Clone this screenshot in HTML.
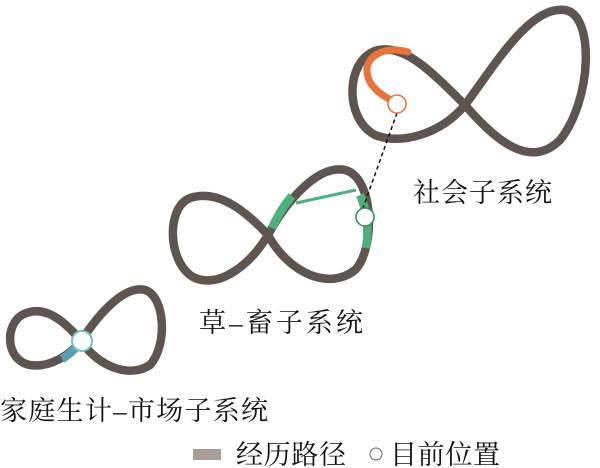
<!DOCTYPE html>
<html><head><meta charset="utf-8"><style>
html,body{margin:0;padding:0;background:#fff;width:600px;height:468px;overflow:hidden}
svg{display:block}
text{font-family:"Liberation Serif","Noto Serif CJK SC",serif;fill:#111}
</style></head><body>
<svg width="600" height="468" viewBox="0 0 600 468">
<g fill="none" stroke="#5f5550" stroke-width="8.5" stroke-linecap="round">
<path d="M465,105 C430,70 405,45 378,50 C346,58 343,118 375,135 C400,145 440,135 465,105 C495,65 530,5 565,10 C595,15 592,100 560,140 C530,170 495,140 465,105"/>
<path d="M268,235 C240,205 215,190 190,198 C165,208 168,265 195,278 C220,288 250,265 268,235 C290,195 320,165 345,170 C375,178 375,250 355,270 C330,290 290,275 268,235"/>
<path d="M81,341 C60,315 40,305 22,315 C5,325 5,360 30,365 C50,368 70,355 81,341 C100,312 125,285 145,290 C165,296 168,345 150,365 C130,378 100,368 81,341"/>
</g>
<path d="M397,103 C380,95 366,85 367,68 C369,55 385,46 408,52" fill="none" stroke="#e8743a" stroke-width="7" stroke-linecap="round"/>
<path d="M272,228 C278,215 284,205 292,196" fill="none" stroke="#4fb07f" stroke-width="8.5"/>
<path d="M360,195 C367,210 369,230 366,248" fill="none" stroke="#4fb07f" stroke-width="8.5"/>
<line x1="296" y1="203" x2="356" y2="190" stroke="#4fb07f" stroke-width="3"/>
<path d="M62,359 C70,354 76,348 80,343" fill="none" stroke="#5a9cb0" stroke-width="8.5"/>
<line x1="397" y1="113" x2="363" y2="208" stroke="#111" stroke-width="1.5" stroke-dasharray="4,3"/>
<circle cx="397" cy="104" r="9" fill="#fff" stroke="#e8743a" stroke-width="1.5"/>
<circle cx="365" cy="217" r="9" fill="#fff" stroke="#2e8b57" stroke-width="1.5"/>
<circle cx="82" cy="341" r="10" fill="#fff" stroke="#6cc3b8" stroke-width="2"/>
<text x="413" y="202" font-size="27" textLength="139">社会子系统</text>
<text x="199" y="332" font-size="27" textLength="164">草–畜子系统</text>
<text x="0" y="420" font-size="27" textLength="268">家庭生计–市场子系统</text>
<rect x="193" y="449" width="28" height="11" fill="#a89d99"/>
<text x="236" y="464" font-size="27" textLength="110">经历路径</text>
<circle cx="376" cy="454" r="6" fill="#fff" stroke="#666" stroke-width="1"/>
<text x="390" y="464" font-size="27" textLength="110">目前位置</text>
</svg>
</body></html>
